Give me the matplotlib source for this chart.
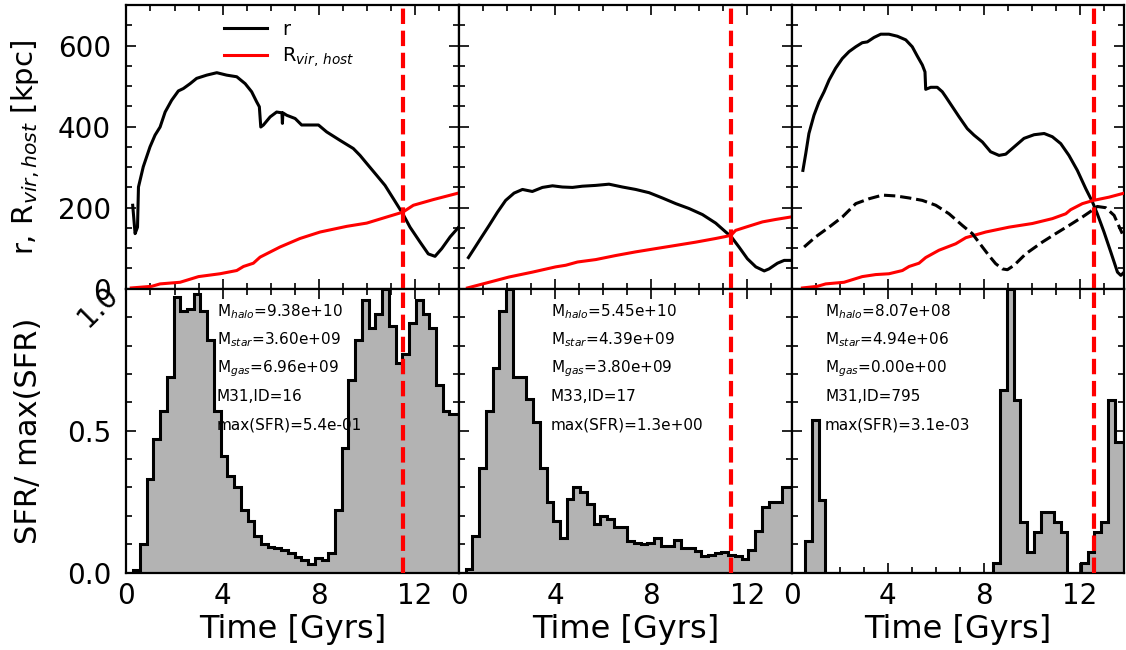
import numpy as np
import matplotlib
matplotlib.use("Agg")
import matplotlib.pyplot as plt
from matplotlib.ticker import MultipleLocator

# ---------------- data ----------------
# Panel 1 (M31, ID=16)
t1_r = [0.26, 0.36, 0.46, 0.50, 0.70, 0.98, 1.19, 1.40, 1.61, 1.88, 2.16, 2.37, 2.65, 2.92, 3.34, 3.76,
        4.17, 4.59, 4.94, 5.21, 5.42, 5.53, 5.59, 5.70, 5.98, 6.25, 6.47, 6.49, 6.51, 6.67, 7.02, 7.29,
        7.64, 7.99, 8.33, 8.89, 9.44, 9.72, 10.00, 10.41, 10.76, 11.11, 11.50, 11.80, 12.22, 12.56, 12.84,
        13.12, 13.47, 13.81]
r1 = [206, 136, 152, 251, 301, 350, 379, 399, 436, 465, 488, 494, 506, 519, 527, 533,
      527, 523, 506, 486, 461, 449, 399, 404, 424, 436, 434, 408, 434, 428, 420, 404,
      404, 404, 387, 366, 346, 329, 309, 280, 255, 222, 185, 152, 115, 86, 80,
      99, 128, 151]
t1_R = [0.20, 1.05, 1.40, 2.23, 3.00, 3.89, 4.59, 4.87, 5.28, 5.56, 6.39, 7.22, 8.06, 9.17, 10.0,
        10.83, 11.50, 11.94, 12.77, 13.81]
R1 = [2, 6, 12, 16, 30, 37, 45, 55, 63, 78, 103, 124, 140, 154, 162, 177, 189, 206, 220, 236]

# Panel 2 (M33, ID=17)
t2_r = [0.39, 0.63, 0.90, 1.25, 1.60, 1.94, 2.29, 2.64, 3.05, 3.47, 3.89, 4.30, 4.72, 5.13, 5.69, 6.24,
        6.80, 7.35, 7.91, 8.46, 9.02, 9.57, 10.13, 10.68, 11.10, 11.32, 11.65, 12.00, 12.35, 12.70,
        12.90, 13.25, 13.53, 13.80]
r2 = [77, 99, 124, 156, 189, 218, 236, 245, 240, 250, 254, 251, 250, 253, 255, 258,
      251, 245, 237, 224, 210, 198, 183, 162, 140, 129, 103, 74, 54, 44,
      49, 63, 70, 70]
t2_R = [0.35, 1.25, 2.08, 3.05, 4.02, 4.44, 4.93, 5.69, 6.52, 7.35, 8.18, 9.02, 9.85, 10.68, 11.10,
        11.32, 11.51, 11.93, 12.63, 13.18, 13.80]
R2 = [2, 16, 29, 41, 54, 58, 66, 72, 82, 91, 99, 107, 115, 124, 129, 132, 144, 152, 165, 171, 177]

# Panel 3 (M31, ID=795)
t3_r = [0.47, 0.59, 0.72, 0.93, 1.14, 1.35, 1.56, 1.83, 2.11, 2.39, 2.67, 2.94, 3.15, 3.43, 3.71, 4.05,
        4.40, 4.75, 5.02, 5.23, 5.44, 5.55, 5.58, 5.79, 6.06, 6.27, 6.41, 6.69, 6.97, 7.31, 7.59, 7.94,
        8.28, 8.63, 8.91, 9.26, 9.67, 10.09, 10.51, 10.85, 11.20, 11.54, 11.89, 12.24, 12.52, 12.72,
        13.00, 13.28, 13.56, 13.70, 13.84]
r3 = [292, 334, 383, 428, 461, 486, 515, 544, 568, 585, 597, 607, 609, 620, 628, 628,
      623, 614, 597, 574, 552, 535, 492, 497, 497, 486, 474, 449, 424, 395, 379, 362,
      338, 329, 332, 350, 371, 380, 383, 375, 358, 329, 292, 247, 214, 185,
      140, 91, 41, 33, 41]
t3_d = [0.52, 1.00, 1.56, 2.11, 2.67, 3.22, 3.78, 4.33, 4.89, 5.44, 6.00, 6.55, 7.11, 7.52, 7.94, 8.21,
        8.49, 8.77, 8.98, 9.26, 9.74, 10.43, 10.99, 11.54, 12.10, 12.52, 12.72, 13.07, 13.42, 13.76]
d3 = [103, 128, 152, 177, 210, 222, 231, 229, 224, 218, 206, 185, 156, 136, 103, 82,
      62, 49, 47, 58, 86, 115, 136, 156, 177, 194, 203, 200, 181, 136]
t3_R = [0.45, 1.07, 1.42, 2.18, 2.94, 3.50, 4.05, 4.61, 4.89, 5.30, 5.58, 6.13, 6.83, 7.25, 8.08, 9.05,
        10.02, 10.85, 11.41, 11.61, 12.10, 12.56, 13.21, 13.84]
R3 = [2, 6, 12, 16, 30, 35, 37, 45, 55, 63, 77, 95, 111, 126, 140, 152, 161, 173, 185, 195, 210, 218, 226, 236]

# SFR histograms (normalised), 50 bins from 0 to 14 Gyr
bin_edges = np.linspace(0, 14, 51)
h1 = [0.0, 0.01, 0.10, 0.33, 0.47, 0.57, 0.69, 0.97, 0.92, 0.93, 0.98, 0.92, 0.82, 0.57, 0.41, 0.34,
      0.30, 0.22, 0.18, 0.13, 0.10, 0.09, 0.085, 0.08, 0.07, 0.055, 0.045, 0.03, 0.05, 0.045, 0.07,
      0.22, 0.44, 0.68, 0.82, 0.96, 0.86, 0.91, 1.0, 0.87, 0.74, 0.77, 0.88, 0.96, 0.91, 0.86, 0.66,
      0.57, 0.56, 0.56]
h2 = [0.0, 0.014, 0.13, 0.37, 0.57, 0.72, 0.92, 1.0, 0.69, 0.69, 0.61, 0.53, 0.37, 0.25, 0.18, 0.12,
      0.26, 0.30, 0.285, 0.24, 0.17, 0.20, 0.19, 0.16, 0.16, 0.11, 0.105, 0.10, 0.105, 0.12, 0.095,
      0.093, 0.114, 0.087, 0.085, 0.076, 0.059, 0.063, 0.069, 0.072, 0.06, 0.059, 0.047, 0.08, 0.145,
      0.23, 0.25, 0.25, 0.30, 0.30]
h3 = [0.0, 0.0, 0.111, 0.538, 0.254, 0.0, 0.0, 0.0, 0.0, 0.0, 0.0, 0.0, 0.0, 0.0, 0.0, 0.0,
      0.0, 0.0, 0.0, 0.0, 0.0, 0.0, 0.0, 0.0, 0.0, 0.0, 0.0, 0.0, 0.0, 0.0, 0.035,
      0.644, 1.0, 0.609, 0.177, 0.071, 0.142, 0.212, 0.212, 0.177, 0.142, 0.0, 0.0, 0.035, 0.071,
      0.142, 0.177, 0.609, 0.459, 0.459]

t_infall = [11.50, 11.32, 12.57]

info = [
    ["M$_{halo}$=9.38e+10", "M$_{star}$=3.60e+09", "M$_{gas}$=6.96e+09", "M31,ID=16", "max(SFR)=5.4e-01"],
    ["M$_{halo}$=5.45e+10", "M$_{star}$=4.39e+09", "M$_{gas}$=3.80e+09", "M33,ID=17", "max(SFR)=1.3e+00"],
    ["M$_{halo}$=8.07e+08", "M$_{star}$=4.94e+06", "M$_{gas}$=0.00e+00", "M31,ID=795", "max(SFR)=3.1e-03"],
]
info_x = [3.76, 3.82, 1.39]
info_y = [0.92, 0.82, 0.72, 0.62, 0.52]

# ---------------- figure ----------------
plt.rcParams['font.family'] = ['DejaVu Sans']
fig = plt.figure(figsize=(11.26, 6.5), dpi=100)
axes = fig.subplots(2, 3, sharex=True, sharey='row')
fig.subplots_adjust(left=0.1123, right=0.9984, top=0.9923, bottom=0.1192, wspace=0, hspace=0)

tops = [(t1_r, r1, t1_R, R1), (t2_r, r2, t2_R, R2), (t3_r, r3, t3_R, R3)]
hists = [h1, h2, h3]

for j in range(3):
    ax = axes[0, j]
    tr, rr, tR, RR = tops[j]
    ax.plot(tr, rr, color='black', lw=2.2, label='r', zorder=3)
    ax.plot(tR, RR, color='red', lw=2.2, label=r'R$_{vir,\,host}$', zorder=3)
    if j == 2:
        ax.plot(t3_d, d3, color='black', lw=2.2, ls='--', zorder=3)
    ax.axvline(t_infall[j], color='red', lw=3, ls='--', zorder=4)

    axb = axes[1, j]
    axb.stairs(hists[j], bin_edges, fill=True, facecolor='#b3b3b3', edgecolor='black',
               linewidth=2.2, zorder=2)
    axb.axvline(t_infall[j], color='red', lw=3, ls='--', zorder=4)
    for k, s in enumerate(info[j]):
        axb.text(info_x[j], info_y[k], s, fontsize=11, va='center', ha='left', zorder=5)

for ax in axes.flat:
    ax.set_xlim(0, 13.84)
    ax.xaxis.set_major_locator(MultipleLocator(4))
    ax.xaxis.set_minor_locator(MultipleLocator(1))
    ax.tick_params(which='both', direction='in', top=True, right=True, labelsize=20, width=1.2)
    ax.tick_params(which='major', length=7)
    ax.tick_params(which='minor', length=4)
    ax.tick_params(axis='y', which='both', pad=11)
    ax.tick_params(axis='x', which='both', pad=6.5)
    for sp in ax.spines.values():
        sp.set_linewidth(1.6)

axes[0, 0].set_ylim(0, 700)
axes[0, 0].yaxis.set_major_locator(MultipleLocator(200))
axes[0, 0].yaxis.set_minor_locator(MultipleLocator(50))
axes[1, 0].set_ylim(0, 1.0)
axes[1, 0].set_yticks([0.0, 0.5, 1.0])
axes[1, 0].set_yticklabels(['0.0', '0.5', '1.0'])
axes[1, 0].yaxis.set_minor_locator(MultipleLocator(0.1))
lab = axes[1, 0].get_yticklabels()[2]
lab.set_rotation(45)
lab.set_rotation_mode('anchor')

for j in range(3):
    axes[1, j].set_xlabel('Time [Gyrs]', fontsize=23, labelpad=3)

axes[0, 0].set_ylabel('r, R$_{vir,host}$ [kpc]', fontsize=21)
axes[1, 0].set_ylabel('SFR/ max(SFR)', fontsize=22)
axes[0, 0].yaxis.set_label_coords(-0.255, 0.5)
axes[1, 0].yaxis.set_label_coords(-0.252, 0.5)

axes[0, 0].legend(loc='upper left', bbox_to_anchor=(0.27, 0.975), frameon=False, fontsize=14,
                  handlelength=2.2, handletextpad=0.8, labelspacing=0.3, borderaxespad=0)

fig.savefig('out.png', dpi=100)
